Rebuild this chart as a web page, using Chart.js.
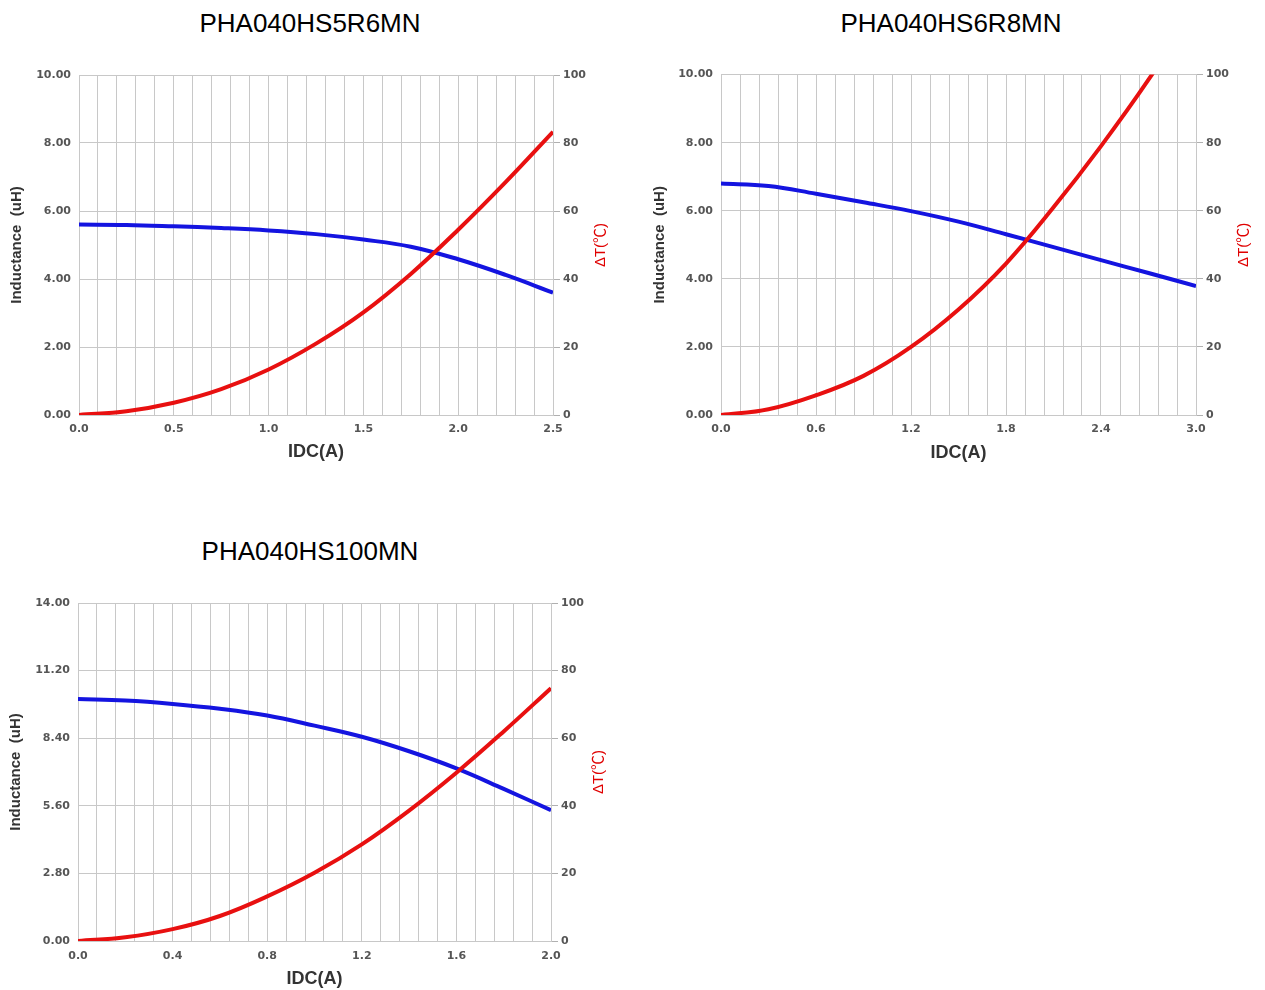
<!DOCTYPE html>
<html>
<head>
<meta charset="utf-8">
<script src="https://cdn.jsdelivr.net/npm/chart.js@4.4.1/dist/chart.umd.min.js"></script>
<style>
  html, body { margin: 0; padding: 0; background: #fff; overflow: hidden; }
  body { width: 1265px; height: 990px; position: relative; }
  .title { position: absolute; font-family: "Liberation Sans", Arial, sans-serif; font-size: 26px; color: #000; text-align: center; white-space: nowrap; }
  .box { position: absolute; }
</style>
</head>
<body>
<div class="title" style="left:110px; top:8px; width:400px;">PHA040HS5R6MN</div>
<div class="title" style="left:751px; top:8px; width:400px;">PHA040HS6R8MN</div>
<div class="title" style="left:110px; top:536px; width:400px;">PHA040HS100MN</div>

<div class="box" style="left:0; top:60px; width:640px; height:410px;"><canvas id="c1" width="640" height="410"></canvas></div>
<div class="box" style="left:640px; top:60px; width:625px; height:410px;"><canvas id="c2" width="625" height="410"></canvas></div>
<div class="box" style="left:0; top:588px; width:640px; height:402px;"><canvas id="c3" width="640" height="402"></canvas></div>

<script>
// PHA040HS5R6MN
const current1 = [0, 0.25, 0.5, 0.75, 1.0, 1.25, 1.5, 1.75, 2.0, 2.25, 2.5];
const induct1 = [5.60, 5.59, 5.55, 5.50, 5.43, 5.32, 5.16, 4.95, 4.58, 4.12, 3.60];
const temp1 = [0, 1.1, 3.6, 7.6, 13.4, 21, 30.2, 41.5, 54.5, 68.5, 83.3];

// PHA040HS6R8MN
const current2 = [0, 0.3, 0.6, 0.9, 1.2, 1.5, 1.8, 2.1, 2.4, 2.7, 3.0];
const induct2 = [6.80, 6.73, 6.50, 6.25, 5.99, 5.68, 5.31, 4.93, 4.55, 4.17, 3.79];
const temp2 = [0, 1.7, 5.8, 11.5, 20, 31, 44.5, 61, 79, 98.5, 120];

// PHA040HS100MN
const current3 = [0, 0.2, 0.4, 0.6, 0.8, 1.0, 1.2, 1.4, 1.6, 1.8, 2.0];
const induct3 = [10.02, 9.96, 9.82, 9.62, 9.34, 8.92, 8.46, 7.86, 7.15, 6.30, 5.42];
const temp3 = [0, 1.1, 3.5, 7.4, 13.2, 20.2, 28.6, 38.6, 49.8, 62, 74.8];

const tickFont = { family: 'DejaVu Sans', size: 11, weight: 'bold' };
const tickColor = '#555';
const gridColor = '#c8c8c8';

// right axis title reads bottom-to-top, so draw it by hand
const rightTitle = {
    id: 'rightTitle',
    afterDraw(chart, args, opts) {
        const ctx = chart.ctx;
        const area = chart.chartArea;
        ctx.save();
        ctx.translate(opts.x, (area.top + area.bottom) / 2);
        ctx.rotate(-Math.PI / 2);
        ctx.fillStyle = '#e00000';
        ctx.font = '15px "Liberation Sans", "Noto Sans CJK SC", sans-serif';
        ctx.textAlign = 'center';
        ctx.textBaseline = 'middle';
        ctx.fillText('ΔT(℃)', 0, 0);
        ctx.restore();
    }
};

function makeChart(id, cfg) {
    const pts = (ys) => cfg.x.map((v, i) => ({ x: v, y: ys[i] }));
    const isLabel = (v) => Math.abs(v / cfg.xLabelStep - Math.round(v / cfg.xLabelStep)) < 1e-6;
    new Chart(document.getElementById(id), {
        type: 'line',
        data: {
            datasets: [
                {
                    label: 'ΔT',
                    data: pts(cfg.temp),
                    yAxisID: 'y1',
                    borderColor: '#e81010',
                    borderWidth: 4,
                    pointRadius: 0,
                    tension: 0.4,
                    order: 0
                },
                {
                    label: 'Inductance',
                    data: pts(cfg.induct),
                    yAxisID: 'y',
                    borderColor: '#1414e0',
                    borderWidth: 4,
                    pointRadius: 0,
                    tension: 0.4,
                    order: 1
                }
            ]
        },
        options: {
            responsive: false,
            animation: false,
            layout: { padding: { top: cfg.padTop, left: 0, right: 0, bottom: 0 } },
            plugins: {
                legend: { display: false },
                tooltip: { enabled: false },
                rightTitle: { x: cfg.rightTitleX }
            },
            scales: {
                x: {
                    type: 'linear',
                    min: 0,
                    max: cfg.xMax,
                    afterFit: (s) => { s.height = cfg.xHeight; },
                    grid: { color: gridColor, drawTicks: false },
                    border: { color: gridColor },
                    ticks: {
                        stepSize: cfg.xStep,
                        autoSkip: false,
                        maxRotation: 0,
                        padding: cfg.xPad,
                        font: tickFont,
                        color: tickColor,
                        callback: (v) => isLabel(v) ? v.toFixed(1) : ''
                    },
                    title: {
                        display: true,
                        text: 'IDC(A)',
                        color: '#333',
                        font: { family: 'Liberation Sans', size: 18, weight: 'bold' },
                        padding: { top: 0, bottom: cfg.xTitlePad }
                    }
                },
                y: {
                    position: 'left',
                    min: 0,
                    max: cfg.yMax,
                    afterFit: (s) => { s.width = cfg.leftW; },
                    grid: { color: gridColor, drawTicks: false },
                    border: { color: gridColor },
                    ticks: {
                        stepSize: cfg.yMax / 5,
                        padding: 8,
                        font: tickFont,
                        color: tickColor,
                        callback: (v) => v.toFixed(2)
                    },
                    title: {
                        display: true,
                        text: 'Inductance  (uH)',
                        color: '#333',
                        font: { family: 'Liberation Sans', size: 15, weight: 'bold' },
                        padding: { top: cfg.yTitlePad, bottom: 0 }
                    }
                },
                y1: {
                    position: 'right',
                    min: 0,
                    max: 100,
                    afterFit: (s) => { s.width = cfg.rightW; },
                    grid: { drawOnChartArea: false, color: '#b0b0b0', tickLength: 7 },
                    border: { color: gridColor },
                    ticks: {
                        stepSize: 20,
                        padding: 3,
                        font: tickFont,
                        color: tickColor
                    }
                }
            }
        },
        plugins: [rightTitle]
    });
}

makeChart('c1', {
    x: current1, induct: induct1, temp: temp1,
    xMax: 2.5, xStep: 0.1, xLabelStep: 0.5, yMax: 10,
    padTop: 15, leftW: 79, rightW: 87, xHeight: 55,
    xPad: 8, xTitlePad: 7, yTitlePad: 8, rightTitleX: 601
});

makeChart('c2', {
    x: current2, induct: induct2, temp: temp2,
    xMax: 3.0, xStep: 0.12, xLabelStep: 0.6, yMax: 10,
    padTop: 13, leftW: 81, rightW: 69, xHeight: 55,
    xPad: 8, xTitlePad: 6, yTitlePad: 11, rightTitleX: 604
});

makeChart('c3', {
    x: current3, induct: induct3, temp: temp3,
    xMax: 2.0, xStep: 0.08, xLabelStep: 0.4, yMax: 14,
    padTop: 15, leftW: 78, rightW: 89, xHeight: 49,
    xPad: 9, xTitlePad: 0, yTitlePad: 7, rightTitleX: 599
});
</script>
</body>
</html>
